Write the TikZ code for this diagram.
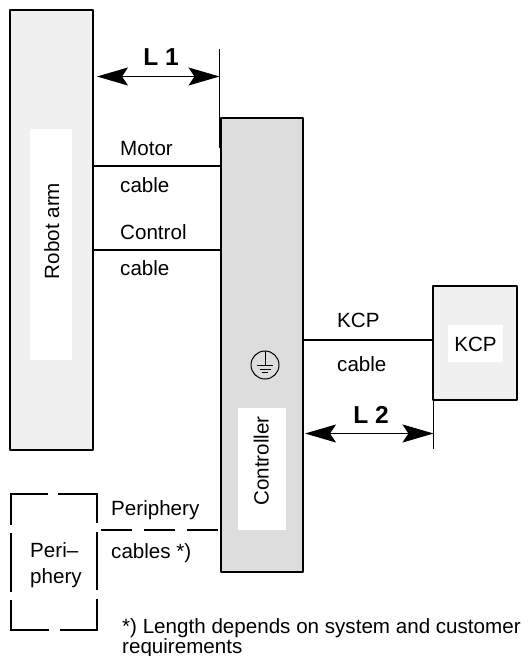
\documentclass[tikz,border=0pt]{standalone}
\usepackage{fontspec}
\setmainfont{Liberation Sans}
\usetikzlibrary{arrows.meta}
\definecolor{lightbox}{HTML}{F0F0F0}
\definecolor{midbox}{HTML}{DDDDDD}
\tikzset{
  unitbox/.style={draw=black,line width=2pt,inner sep=0pt,line join=round},
  whitepatch/.style={fill=white,inner sep=0pt},
  lbl/.style={anchor=base west,inner sep=0pt,font=\fontsize{20.6}{20.6}\selectfont},
  lblc/.style={anchor=base,inner sep=0pt,font=\fontsize{20.6}{20.6}\selectfont},
  dimlbl/.style={anchor=base,inner sep=0pt,font=\fontsize{24.5}{24.5}\selectfont\bfseries},
  cable/.style={line width=2pt},
  extline/.style={line width=0.9pt},
  dimline/.style={line width=1pt,{Stealth[length=31pt,width=18pt,inset=6pt]}-{Stealth[length=31pt,width=18pt,inset=6pt]}},
}
\begin{document}
\begin{tikzpicture}[x=1pt,y=-1pt]
\useasboundingbox (0,0) rectangle (528,656);
% boxes
\node[unitbox,fill=lightbox,minimum width=83pt,minimum height=440pt] (robot) at (51.5,230) {};
\node[whitepatch,minimum width=42pt,minimum height=231pt] (robotw) at (51,244.5) {};
\node[unitbox,fill=midbox,minimum width=82pt,minimum height=454pt] (ctrl) at (262,345) {};
\node[whitepatch,minimum width=48pt,minimum height=122pt] (ctrlw) at (262,469) {};
\node[unitbox,fill=lightbox,minimum width=84pt,minimum height=114pt] (kcp) at (475,343) {};
\node[whitepatch,minimum width=55pt,minimum height=37pt] (kcpw) at (475.5,343.5) {};
\node[inner sep=0pt,minimum width=86pt,minimum height=136pt] (peri) at (54,562) {};
% box labels
\node[anchor=base,inner sep=0pt,rotate=90,font=\fontsize{20.6}{20.6}\selectfont] (robotl) at (59,231) {Robot arm};
\node[anchor=base,inner sep=0pt,rotate=90,font=\fontsize{20.6}{20.6}\selectfont] (ctrll) at (268.5,461) {Controller};
\node[lblc] (kcpl) at (475.5,351) {KCP};
\node[lbl] (peril1) at (30,557) {Peri–};
\node[lbl] (peril2) at (30,583) {phery};
% periphery dashed outline
\draw[line width=2pt]
  (11,494) -- (48,494) (58,494) -- (97,494)
  (11,630) -- (49,630) (60,630) -- (97,630)
  (11,493) -- (11,525) (11,533) -- (11,592) (11,600) -- (11,631)
  (97,493) -- (97,523) (97,532) -- (97,590) (97,599) -- (97,631);
% cables
\coordinate (ym) at (0,166);
\coordinate (yc) at (0,250);
\coordinate (yk) at (0,340);
\coordinate (pstart) at (101,530);
\draw[cable] (robot.east |- ym) -- (ctrl.west |- ym);
\draw[cable] (robot.east |- yc) -- (ctrl.west |- yc);
\draw[cable] (ctrl.east |- yk) -- (kcp.west |- yk);
\draw[cable,dash pattern=on 31pt off 12pt] (pstart) -- (ctrl.west |- pstart);
% cable labels
\node[lbl] (t1) at (120,155) {Motor};
\node[lbl] (t2) at (120,192) {cable};
\node[lbl] (t3) at (120,239) {Control};
\node[lbl] (t4) at (120,275) {cable};
\node[lbl] (t5) at (337,327) {KCP};
\node[lbl] (t6) at (337,371) {cable};
\node[lbl] (t7) at (111,515) {Periphery};
\node[lbl] (t8) at (111,558) {cables *)};
\node[lbl] (t9) at (122,633) {*) Length depends on system and customer};
\node[lbl] (t10) at (122,653) {requirements};
% dimensions
\coordinate (e1a) at (219.5,49);
\coordinate (e1b) at (219.5,148);
\coordinate (e2a) at (433.5,400);
\coordinate (e2b) at (433.5,449);
\coordinate (d1) at (97,76.5);
\coordinate (d2) at (305,433.5);
\draw[extline] (e1a) -- (e1b);
\draw[extline] (e2a) -- (e2b);
\draw[dimline] (d1) -- (d1 -| e1a);
\draw[dimline] (d2) -- (d2 -| e2a);
\node[dimlbl] (l1) at (161,65) {L 1};
\node[dimlbl] (l2) at (371,423) {L 2};
% ground symbol
\node[draw,circle,line width=1pt,minimum size=28pt,inner sep=0pt] (gnd) at (265,365) {};
\draw[line width=1pt] (gnd.north) -- ++(0,15)
  (257,365.5) -- (273,365.5) (259.5,369) -- (270.5,369) (262,372.5) -- (268,372.5);
\end{tikzpicture}
\end{document}
